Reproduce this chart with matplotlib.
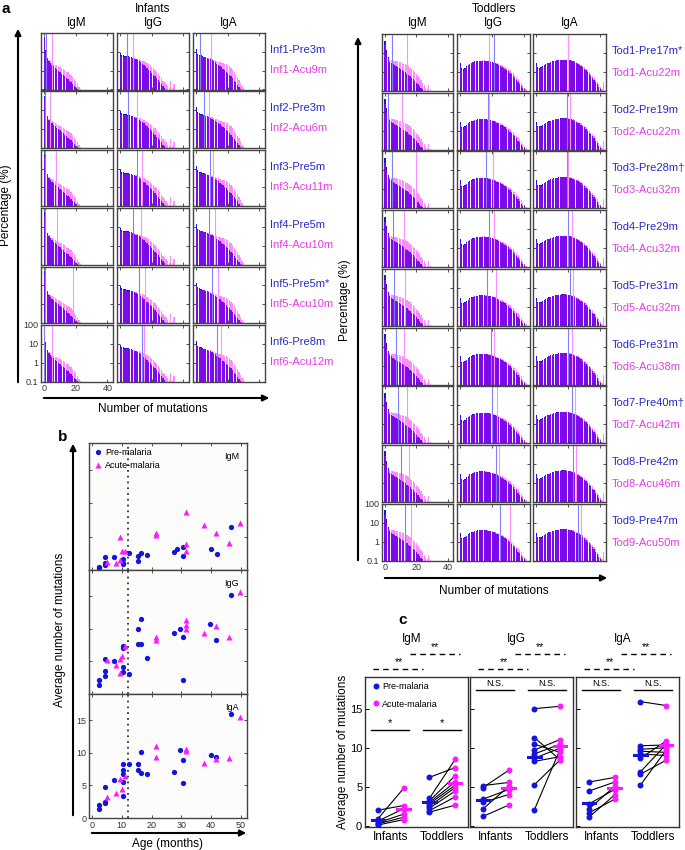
import numpy as np
import matplotlib.pyplot as plt
from matplotlib.patches import FancyArrowPatch

plt.rcParams['font.family'] = ['Liberation Sans', 'DejaVu Sans']
plt.rcParams['font.size'] = 7.5

# ---- panel a: histogram shapes (percentage per number of mutations, bin = 1) ----
inf_igm_pre = [60, 12, 5.0, 3.2, 2.5, 2.0, 1.7, 1.4, 1.2, 1.0, 0.85, 0.7, 0.6, 0.5, 0.42, 0.35, 0.3, 0.25, 0.2, 0.16, 0.13, 0.11]
inf_igm_acu = [40, 10, 5.0, 3.6, 3.1, 2.7, 2.4, 2.1, 1.9, 1.7, 1.5, 1.35, 1.2, 1.05, 0.9, 0.8, 0.7, 0.6, 0.47, 0.36, 0.27, 0.2, 0.14, 0.11]
inf_igg_pre = [9, 7, 6.5, 6.2, 6.0, 5.8, 5.5, 5.2, 4.8, 4.4, 4.0, 3.6, 3.2, 2.8, 2.4, 2.0, 1.7, 1.4, 1.15, 0.95, 0.78, 0.62, 0.5, 0.4, 0.32, 0.25, 0.2, 0.15, 0.12]
inf_igg_acu = [6, 5.5, 5.5, 5.4, 5.3, 5.2, 5.1, 5.0, 4.8, 4.6, 4.4, 4.2, 4.0, 3.7, 3.4, 3.1, 2.8, 2.5, 2.2, 1.9, 1.6, 1.35, 1.1, 0.9, 0.7, 0.55, 0.42, 0.3, 0.25, 0.2, 0.15, 0.12, 0.3, 0.12, 0.2]
inf_iga_pre = [14, 8, 7, 6.5, 6.0, 5.6, 5.2, 4.8, 4.4, 4.0, 3.6, 3.2, 2.8, 2.4, 2.1, 1.8, 1.5, 1.3, 1.1, 0.9, 0.75, 0.6, 0.5, 0.4, 0.3, 0.24, 0.18, 0.14, 0.11]
inf_iga_acu = [8, 6.5, 6.0, 5.8, 5.6, 5.4, 5.2, 5.0, 4.8, 4.5, 4.2, 3.9, 3.6, 3.3, 3.0, 2.8, 2.6, 2.5, 2.4, 2.2, 2.0, 1.7, 1.4, 1.1, 0.8, 0.6, 0.45, 0.32, 0.22, 0.15, 0.12]

tod_igm_pre = [45, 15, 6.0, 3.5, 3.0, 2.6, 2.3, 2.0, 1.8, 1.6, 1.4, 1.25, 1.1, 0.95, 0.82, 0.7, 0.6, 0.5, 0.42, 0.35, 0.28, 0.22, 0.18, 0.14, 0.12]
tod_igm_acu = [25, 10, 5.5, 4.5, 4.2, 4.0, 3.9, 3.8, 3.6, 3.4, 3.2, 3.0, 2.8, 2.6, 2.3, 2.0, 1.7, 1.45, 1.2, 1.0, 0.8, 0.62, 0.48, 0.36, 0.27, 0.2, 0.15, 0.12, 0.2, 0.11]
tod_igg_pre = [3.0, 1.6, 1.5, 1.7, 2.0, 2.4, 2.8, 3.1, 3.4, 3.6, 3.8, 3.9, 4.0, 4.0, 4.0, 4.0, 3.9, 3.8, 3.7, 3.5, 3.3, 3.1, 2.9, 2.6, 2.4, 2.1, 1.9, 1.7, 1.5, 1.3, 1.1, 0.9, 0.75, 0.6, 0.5, 0.4, 0.3, 0.24, 0.18, 0.14, 0.11]
tod_igg_acu = [2.0, 1.3, 1.3, 1.5, 1.8, 2.2, 2.6, 2.9, 3.2, 3.5, 3.7, 3.8, 3.9, 4.0, 4.1, 4.1, 4.0, 3.9, 3.8, 3.7, 3.5, 3.3, 3.1, 2.9, 2.6, 2.4, 2.2, 2.0, 1.8, 1.6, 1.4, 1.2, 1.0, 0.85, 0.7, 0.55, 0.45, 0.35, 0.27, 0.2, 0.15, 0.12]
tod_iga_pre = [3.0, 1.8, 1.7, 1.8, 2.0, 2.3, 2.6, 2.9, 3.1, 3.4, 3.6, 3.8, 4.0, 4.2, 4.3, 4.4, 4.5, 4.5, 4.5, 4.4, 4.3, 4.1, 3.9, 3.6, 3.3, 3.0, 2.7, 2.4, 2.1, 1.8, 1.5, 1.25, 1.0, 0.8, 0.65, 0.5, 0.4, 0.3, 0.22, 0.16, 0.12]
tod_iga_acu = [2.0, 1.5, 1.5, 1.6, 1.8, 2.1, 2.4, 2.7, 3.0, 3.3, 3.5, 3.7, 3.9, 4.1, 4.2, 4.3, 4.4, 4.5, 4.5, 4.5, 4.4, 4.3, 4.1, 3.9, 3.6, 3.3, 3.0, 2.7, 2.4, 2.1, 1.8, 1.5, 1.25, 1.0, 0.8, 0.65, 0.5, 0.4, 0.3, 0.22, 0.16, 0.12, 0.3]

# mean-lines in each histogram (IgM, IgG, IgA)
inf_line_pre = [[1.4, 4.2, 2.5], [0.3, 5.2, 5.0], [0.3, 10.5, 9.0], [0.5, 8.0, 8.0], [0.8, 12.0, 10.0], [0.2, 13.6, 13.0]]
inf_line_acu = [[5.0, 8.4, 9.2], [4.0, 10.9, 8.2], [7.5, 14.0, 10.7], [8.0, 13.0, 12.0], [18.0, 16.0, 14.0], [5.2, 15.0, 16.0]]
tod_line_pre = [[4.2, 21, 20], [2.0, 17.6, 19], [4.2, 16, 19], [5, 18, 20], [6, 17, 21], [7, 19, 20], [8, 20, 22], [10, 22, 23], [13, 25, 26]]
tod_line_acu = [[14.3, 18, 20], [10.5, 18, 21], [20, 20.5, 20], [12, 21, 22], [13, 22, 23], [12, 21, 22], [14, 23, 24], [15, 24, 25], [16.5, 31, 28]]

inf_pre_lab = ["Inf1-Pre3m", "Inf2-Pre3m", "Inf3-Pre5m", "Inf4-Pre5m", "Inf5-Pre5m*", "Inf6-Pre8m"]
inf_acu_lab = ["Inf1-Acu9m", "Inf2-Acu6m", "Inf3-Acu11m", "Inf4-Acu10m", "Inf5-Acu10m", "Inf6-Acu12m"]
tod_pre_lab = ["Tod1-Pre17m*", "Tod2-Pre19m", "Tod3-Pre28m\u2020", "Tod4-Pre29m", "Tod5-Pre31m",
               "Tod6-Pre31m", "Tod7-Pre40m\u2020", "Tod8-Pre42m", "Tod9-Pre47m"]
tod_acu_lab = ["Tod1-Acu22m", "Tod2-Acu22m", "Tod3-Acu32m", "Tod4-Acu32m", "Tod5-Acu32m",
               "Tod6-Acu38m", "Tod7-Acu42m", "Tod8-Acu46m", "Tod9-Acu50m"]
isotypes = ["IgM", "IgG", "IgA"]

# ---- panel b: age vs average number of mutations ----
igm_pre_age = [2.2, 2.2, 4.4, 4.4, 4.4, 7.3, 10.4, 10.4, 10.4, 12.4, 15.3, 15.3, 16.3, 18.3, 27.4, 28.5, 30.6, 30.6, 39.8, 41.8, 46.7]
igm_pre_val = [0.5, 0.3, 1.1, 0.8, 2.0, 2.0, 1.7, 1.1, 0.9, 2.6, 1.4, 2.1, 2.6, 2.2, 2.7, 3.2, 2.1, 3.5, 3.2, 2.4, 6.4]
igm_acu_age = [5.2, 8.2, 9.4, 9.3, 10.2, 11.1, 21.5, 21.5, 31.5, 31.5, 31.5, 37.6, 41.6, 45.8, 49.8]
igm_acu_val = [1.2, 1.0, 1.5, 5.0, 2.8, 2.8, 5.2, 5.5, 8.7, 3.9, 2.8, 6.8, 5.6, 4.0, 7.0]
igg_pre_age = [46.7, 16.3, 15.3, 39.7, 29.5, 27.4, 30.4, 41.6, 15.3, 16.3, 10.4, 10.4, 18.3, 4.4, 7.3, 10.4, 10.4, 12.4, 4.4, 4.4, 2.2, 2.2, 30.6]
igg_pre_val = [15.2, 11.5, 9.9, 10.7, 9.9, 9.4, 8.7, 8.3, 7.6, 7.7, 7.4, 7.0, 5.5, 5.4, 5.1, 4.2, 3.4, 3.0, 3.6, 2.8, 2.2, 1.4, 2.2]
igg_acu_age = [49.8, 31.5, 31.5, 31.5, 41.6, 37.6, 45.8, 21.5, 21.5, 11.1, 10.2, 9.3, 5.2, 8.2, 9.3]
igg_acu_val = [15.6, 11.3, 10.6, 9.9, 10.4, 9.3, 8.7, 8.7, 8.3, 7.4, 5.8, 5.4, 5.2, 4.4, 3.2]
iga_pre_age = [46.7, 29.5, 16.3, 39.8, 41.6, 30.6, 10.4, 12.4, 15.3, 10.4, 15.3, 27.4, 16.3, 18.3, 10.4, 7.3, 10.4, 30.6, 4.4, 10.4, 4.4, 4.4, 2.2, 2.2]
iga_pre_val = [16.0, 10.4, 10.1, 9.6, 9.4, 8.9, 8.2, 8.3, 8.2, 7.3, 7.4, 7.1, 6.9, 6.8, 6.8, 5.8, 5.5, 5.4, 4.7, 3.4, 2.5, 2.3, 2.0, 1.4]
iga_acu_age = [49.8, 21.5, 31.5, 31.5, 21.5, 41.6, 45.8, 37.6, 11.1, 9.3, 10.2, 8.2, 5.2]
iga_acu_val = [15.4, 11.0, 10.5, 10.3, 9.3, 9.1, 9.2, 8.4, 6.4, 5.9, 4.4, 3.9, 3.2]

# ---- panel c: paired pre / acute values ----
c_inf_pre = {"IgM": [2.0, 0.9, 0.6, 0.4, 0.25, 0.1],
             "IgG": [5.15, 4.9, 3.4, 3.0, 2.15, 1.2],
             "IgA": [5.6, 4.45, 2.8, 2.15, 1.65, 1.1]}
c_inf_acu = {"IgM": [2.6, 4.8, 2.2, 1.5, 1.1, 0.8],
             "IgG": [5.55, 7.1, 4.65, 4.0, 5.05, 2.65],
             "IgA": [6.2, 5.6, 4.65, 5.05, 3.4, 3.95]}
c_tod_pre = {"IgM": [6.2, 3.5, 3.2, 3.0, 2.8, 2.5, 2.25, 1.95, 1.75],
             "IgG": [15.0, 11.3, 10.45, 9.7, 9.2, 8.65, 8.25, 5.25, 2.05],
             "IgA": [15.9, 10.25, 9.8, 9.55, 9.2, 8.65, 6.9, 6.6, 5.2]}
c_tod_acu = {"IgM": [7.45, 8.5, 6.4, 5.6, 5.2, 4.9, 4.45, 3.7, 2.65],
             "IgG": [15.3, 8.45, 9.4, 11.05, 10.45, 9.95, 8.85, 8.45, 9.8],
             "IgA": [15.4, 10.35, 10.0, 9.4, 9.0, 10.85, 10.4, 8.4, 9.7]}
c_inner = {"IgM": ["*", "*"], "IgG": ["N.S.", "N.S."], "IgA": ["N.S.", "N.S."]}

BLUE = '#1414dc'
MAG = '#ff1aff'
BLUE_T = '#2a2ac8'
MAG_T = '#e63ce6'
W, H = 685, 850

fig = plt.figure(figsize=(6.85, 8.5), dpi=100)


def rect(x0, y0, x1, y1):
    return [x0 / W, 1 - y1 / H, (x1 - x0) / W, (y1 - y0) / H]


def ftext(x, y, s, **kw):
    fig.text(x / W, 1 - y / H, s, **kw)


def arrow(x0, y0, x1, y1):
    fig.add_artist(FancyArrowPatch((x0 / W, 1 - y0 / H), (x1 / W, 1 - y1 / H),
                                   transform=fig.transFigure, arrowstyle='-|>',
                                   mutation_scale=9, lw=1.5, color='black'))


def style_box(ax, col='#444444'):
    for s in ax.spines.values():
        s.set_color(col)
        s.set_linewidth(1.0)


def hist_panel(r, pre, acu, lp, la, labels):
    ax = fig.add_axes(r)
    ax.bar(np.arange(len(pre)), pre, width=0.8, color=BLUE, linewidth=0)
    ax.bar(np.arange(len(acu)), acu, width=0.8, color='#ff00ff', alpha=0.45, linewidth=0)
    ax.axvline(lp, color='#8080ff', lw=0.8)
    ax.axvline(la, color='#ff90ff', lw=0.8)
    ax.set_yscale('log')
    ax.set_ylim(0.1, 100)
    ax.set_xlim(-2, 43.5)
    ax.set_xticks([0, 20, 40])
    ax.set_yticks([0.1, 1, 10, 100])
    ax.minorticks_off()
    ax.set_yticklabels(['0.1', '1', '10', '100'])
    ax.tick_params(direction='in', top=True, right=True, length=2.5, width=0.6,
                   labelsize=6.5, pad=2, colors='#333333')
    if not labels:
        ax.tick_params(labelleft=False, labelbottom=False)
    style_box(ax)
    return ax


# ---- panel a, infants ----
inf_cols = [(41, 113), (117, 189), (193, 265)]
inf_tpl = [(inf_igm_pre, inf_igm_acu), (inf_igg_pre, inf_igg_acu), (inf_iga_pre, inf_iga_acu)]
for i in range(6):
    top = 33 + i * 58.4
    for j, (x0, x1) in enumerate(inf_cols):
        hist_panel(rect(x0, top, x1, top + 56.5), inf_tpl[j][0], inf_tpl[j][1],
                   inf_line_pre[i][j], inf_line_acu[i][j], labels=(i == 5 and j == 0))
    ftext(270, top + 17, inf_pre_lab[i], color=BLUE_T, fontsize=8, va='center')
    ftext(270, top + 37, inf_acu_lab[i], color=MAG_T, fontsize=8, va='center')

# ---- panel a, toddlers ----
tod_cols = [(382, 453), (457, 530), (533, 606)]
tod_tpl = [(tod_igm_pre, tod_igm_acu), (tod_igg_pre, tod_igg_acu), (tod_iga_pre, tod_iga_acu)]
for i in range(9):
    top = 34 + i * 58.7
    for j, (x0, x1) in enumerate(tod_cols):
        hist_panel(rect(x0, top, x1, top + 57), tod_tpl[j][0], tod_tpl[j][1],
                   tod_line_pre[i][j], tod_line_acu[i][j], labels=(i == 8 and j == 0))
    ftext(612, top + 17, tod_pre_lab[i], color=BLUE_T, fontsize=8, va='center')
    ftext(612, top + 39, tod_acu_lab[i], color=MAG_T, fontsize=8, va='center')

ftext(1, 9, 'a', fontsize=11, fontweight='bold', va='center')
ftext(153, 9, 'Infants', fontsize=8.5, ha='center', va='center')
ftext(494, 9, 'Toddlers', fontsize=8.5, ha='center', va='center')
for j, name in enumerate(isotypes):
    ftext(sum(inf_cols[j]) / 2, 23, name, fontsize=8.5, ha='center', va='center')
    ftext(sum(tod_cols[j]) / 2, 23, name, fontsize=8.5, ha='center', va='center')

arrow(18, 385, 18, 26)
arrow(41, 398, 272, 398)
ftext(6, 205, 'Percentage (%)', fontsize=8.5, rotation=90, ha='center', va='center')
ftext(153, 409, 'Number of mutations', fontsize=8.5, ha='center', va='center')
arrow(358, 563, 358, 34)
arrow(382, 578, 610, 578)
ftext(345, 300, 'Percentage (%)', fontsize=8.5, rotation=90, ha='center', va='center')
ftext(494, 591, 'Number of mutations', fontsize=8.5, ha='center', va='center')

# ---- panel b ----
b_sets = [("IgM", igm_pre_age, igm_pre_val, igm_acu_age, igm_acu_val),
          ("IgG", igg_pre_age, igg_pre_val, igg_acu_age, igg_acu_val),
          ("IgA", iga_pre_age, iga_pre_val, iga_acu_age, iga_acu_val)]
b_rows = [(443, 570), (570, 694), (694, 818)]
for k, (name, pa, pv, aa, av) in enumerate(b_sets):
    ax = fig.add_axes(rect(89, b_rows[k][0], 247, b_rows[k][1]))
    ax.set_facecolor('#fcfcfa')
    ax.axvline(12, color='#333333', lw=1.3, ls=(0, (1, 2.2)))
    ax.plot(pa, pv, 'o', color=BLUE, ms=3.8, mec='none', label='Pre-malaria')
    ax.plot(aa, av, '^', color=MAG, ms=4.2, mec='none', label='Acute-malaria')
    ax.set_xlim(-1, 52)
    ax.set_ylim(0, 19)
    ax.set_xticks([0, 10, 20, 30, 40, 50])
    ax.set_yticks([0, 5, 10, 15])
    ax.tick_params(direction='in', top=True, right=True, length=2.5, width=0.6,
                   labelsize=6.5, pad=2, colors='#333333')
    if k < 2:
        ax.tick_params(labelleft=False, labelbottom=False)
    ax.text(0.95, 0.93, name, transform=ax.transAxes, ha='right', va='top', fontsize=6.5)
    if k == 0:
        ax.legend(loc='upper left', frameon=False, fontsize=6.5, handletextpad=0.2,
                  borderaxespad=0.15, labelspacing=0.5, handlelength=1.0)
    style_box(ax)

ftext(58, 437, 'b', fontsize=11, fontweight='bold', va='center')
arrow(73, 818, 73, 441)
arrow(89, 833, 249, 833)
ftext(60, 630, 'Average number of mutations', fontsize=8.5, rotation=90, ha='center', va='center')
ftext(167, 844, 'Age (months)', fontsize=8.5, ha='center', va='center')

# ---- panel c ----
c_boxes = [(365, 468), (470, 573), (576, 679)]
for k, name in enumerate(isotypes):
    ax = fig.add_axes(rect(c_boxes[k][0], 677, c_boxes[k][1], 827))
    groups = [(0, c_inf_pre[name], c_inf_acu[name]), (2, c_tod_pre[name], c_tod_acu[name])]
    for x0, pre, acu in groups:
        for p, a in zip(pre, acu):
            ax.plot([x0, x0 + 1], [p, a], color='black', lw=0.8, zorder=2)
        ax.plot([x0] * len(pre), pre, 'o', color=BLUE, ms=4.3, mec='none', zorder=3,
                label='Pre-malaria' if x0 == 0 else None)
        ax.plot([x0 + 1] * len(acu), acu, 'o', color=MAG, ms=4.3, mec='none', zorder=3,
                label='Acute-malaria' if x0 == 0 else None)
        ax.plot([x0 - 0.24, x0 + 0.24], [np.mean(pre)] * 2, color=BLUE, lw=2.2, zorder=4)
        ax.plot([x0 + 0.76, x0 + 1.24], [np.mean(acu)] * 2, color=MAG, lw=2.2, zorder=4)
    ax.set_xlim(-0.5, 3.5)
    ax.set_ylim(-0.15, 19.05)
    ax.set_xticks([0.5, 2.5])
    ax.set_xticklabels(['Infants', 'Toddlers'], fontsize=8.5)
    ax.set_yticks([0, 5, 10, 15])
    ax.tick_params(axis='x', length=0, pad=3)
    ax.tick_params(axis='y', direction='in', length=3, width=0.7, labelsize=8, pad=2)
    if k > 0:
        ax.tick_params(axis='y', labelleft=False)
    # significance inside box
    sig_y = 12.3 if name == "IgM" else 17.4
    for x0, s in zip([0, 2], c_inner[name]):
        ax.plot([x0 - 0.25, x0 + 1.22], [sig_y, sig_y], color='black', lw=1.0)
        ax.text(x0 + 0.48, sig_y + 0.25, s, ha='center', va='bottom', fontsize=6.5 if s == 'N.S.' else 8)
    # infants vs toddlers, above box
    ax.plot([-0.2, 1.75], [20.1, 20.1], color='black', lw=1.0, ls=(0, (4, 3)), clip_on=False)
    ax.text(0.8, 20.3, '**', ha='center', va='bottom', fontsize=7.5)
    ax.plot([1.25, 3.2], [22.0, 22.0], color='black', lw=1.0, ls=(0, (4, 3)), clip_on=False)
    ax.text(2.2, 22.2, '**', ha='center', va='bottom', fontsize=7.5)
    ax.text(1.3, 23.9, name, ha='center', va='center', fontsize=8.5)
    if k == 0:
        ax.legend(loc='upper left', frameon=False, fontsize=6.5, handletextpad=0.1,
                  borderaxespad=0.2, labelspacing=0.9, handlelength=1.2)
    style_box(ax, '#333333')

ftext(398, 620, 'c', fontsize=11, fontweight='bold', va='center')
ftext(343, 752, 'Average number of mutations', fontsize=8.5, rotation=90, ha='center', va='center')

fig.savefig('out.png', dpi=100)
